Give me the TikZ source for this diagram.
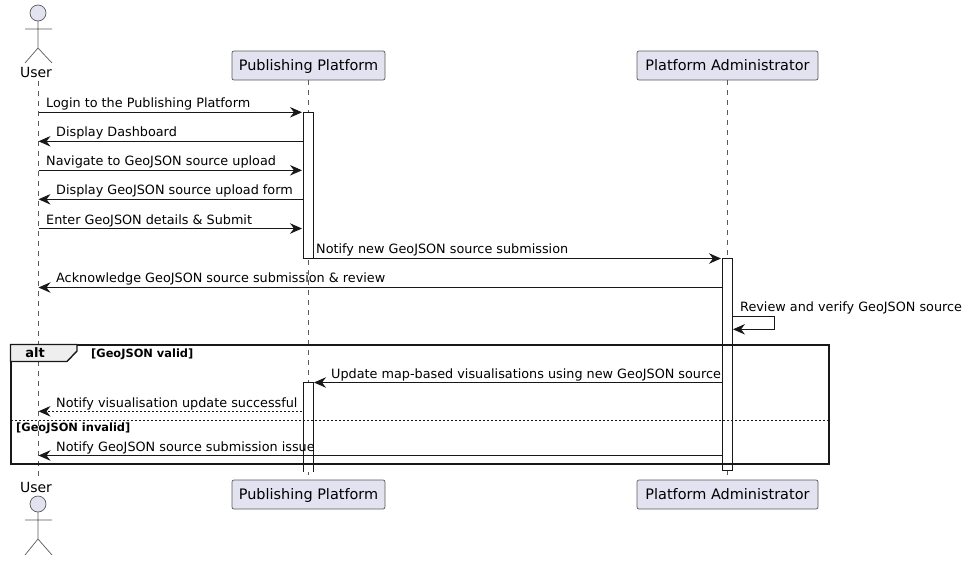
\documentclass[tikz,border=0pt]{standalone}
\usepackage{fontspec}
\usepackage{xcolor}
\usepackage{tikz}
\usetikzlibrary{arrows.meta}
\setmainfont{DejaVu Sans}

\definecolor{partfill}{HTML}{E2E2F0}
\definecolor{partline}{HTML}{5A5A5A}
\definecolor{tabfill}{HTML}{EEEEEE}
\definecolor{inkline}{HTML}{181818}

\tikzset{
  part/.style={draw=partline, fill=partfill, rounded corners=2pt, line width=0.7pt,
    minimum height=29pt, inner sep=0pt, text height=12pt, text depth=2.4pt,
    font=\fontsize{14.45}{17}\selectfont, text=black},
  actorname/.style={inner sep=0pt, font=\fontsize{14}{17}\selectfont, text=black},
  actorline/.style={draw=partline, line width=0.7pt},
  lifeline/.style={draw=partline, line width=0.6pt, dash pattern=on 5pt off 5pt},
  bar/.style={draw=inkline, fill=white, line width=0.9pt},
  msg/.style={draw=inkline, line width=0.9pt, -{Stealth[length=12pt,width=10.5pt,inset=4pt]}},
  msgdash/.style={msg, dash pattern=on 2pt off 2pt},
  msglabel/.style={anchor=base west, inner sep=0pt, font=\fontsize{12.8}{15}\selectfont, text=black},
  guard/.style={anchor=base west, inner sep=0pt, font=\fontsize{11.4}{13}\bfseries\selectfont, text=black},
}

\begin{document}
\begin{tikzpicture}[x=1pt, y=-1pt]
  \useasboundingbox (0,0) rectangle (969,560);

  % -- participants, top and bottom ---------------------------------------
  \node[actorname, anchor=base] (usertop) at (36,77.5) {User};
  \node[actorname, anchor=base] (userbot) at (36,492.5) {User};
  \node[part, minimum width=153pt] (pubtop) at (308.5,65.5) {Publishing Platform};
  \node[part, minimum width=153pt] (pubbot) at (308.5,494.5) {Publishing Platform};
  \node[part, minimum width=181pt] (admintop) at (727.5,65.5) {Platform Administrator};
  \node[part, minimum width=181pt] (adminbot) at (727.5,494.5) {Platform Administrator};

  % -- stick figures ------------------------------------------------------
  \draw[actorline, fill=partfill] (38,13) circle (8);
  \draw[actorline] (38,21) -- (38,48) (25,29) -- (52,29) (25,63) -- (38,48) -- (52,63);
  \draw[actorline, fill=partfill] (38,504) circle (8);
  \draw[actorline] (38,512) -- (38,539) (25,520) -- (52,520) (25,555) -- (38,539) -- (52,555);

  % -- lifelines ----------------------------------------------------------
  \coordinate (userhi) at (38.5,81);
  \coordinate (userlo) at (38.5,477);
  \draw[lifeline] (userhi) -- (userlo);
  \draw[lifeline] (pubtop) -- (pubbot);
  \draw[lifeline] (admintop) -- (adminbot);

  % -- activation bars ----------------------------------------------------
  \draw[bar] (303,112.3) rectangle (313,258.5);
  \fill[white] (303,382.5) rectangle (313,472);
  \draw[bar] (303,472) -- (303,382.5) -- (313,382.5) -- (313,472);
  \draw[bar] (722,258.5) rectangle (732,470);

  % -- alt frame ----------------------------------------------------------
  \draw[inkline, line width=2pt] (10.5,344.5) rectangle (829,463.5);
  \draw[inkline, fill=tabfill, line width=1.4pt] (10.5,344.5) -- (77,344.5) -- (77,351) -- (67,361.5) -- (10.5,361.5) -- cycle;
  \draw[inkline, line width=0.7pt, dash pattern=on 2pt off 2pt] (10.5,420.3) -- (829,420.3);
  \node[anchor=base, inner sep=0pt, font=\fontsize{13}{15}\bfseries\selectfont] (alttag) at (35,357) {alt};
  \node[guard] (validtag) at (91,357) {[GeoJSON valid]};
  \node[guard] (invalidtag) at (16,431) {[GeoJSON invalid]};

  % -- message ends -------------------------------------------------------
  \coordinate (u1) at (38.5,112.3);   \coordinate (p1) at (302,112.3);
  \coordinate (p2) at (303,141.3);    \coordinate (u2) at (38.5,141.3);
  \coordinate (u3) at (38.5,170.3);   \coordinate (p3) at (302,170.3);
  \coordinate (p4) at (303,199.3);    \coordinate (u4) at (38.5,199.3);
  \coordinate (u5) at (38.5,228.5);   \coordinate (p5) at (302,228.5);
  \coordinate (p6) at (303,258.5);    \coordinate (a6) at (721,258.5);
  \coordinate (a7) at (722,287.5);    \coordinate (u7) at (38.5,287.5);
  \coordinate (a8) at (732,316.3);    \coordinate (b8) at (733,329.3);
  \coordinate (a9) at (722,382.5);    \coordinate (p9) at (314,382.5);
  \coordinate (p10) at (302,411.3);   \coordinate (u10) at (38.5,411.3);
  \coordinate (a11) at (722,455.5);   \coordinate (u11) at (38.5,455.5);

  % -- messages -----------------------------------------------------------
  \draw[msg] (u1) -- (p1);
  \draw[msg] (p2) -- (u2);
  \draw[msg] (u3) -- (p3);
  \draw[msg] (p4) -- (u4);
  \draw[msg] (u5) -- (p5);
  \draw[msg] (p6) -- (a6);
  \draw[msg] (a7) -- (u7);
  \draw[msg] (a8) -- (774.5,316.3) -- (774.5,329.3) -- (b8);
  \draw[msg] (a9) -- (p9);
  \draw[msgdash] (p10) -- (u10);
  \draw[msg] (a11) -- (u11);

  % -- message labels -----------------------------------------------------
  \node[msglabel] (m1) at (46,107) {Login to the Publishing Platform};
  \node[msglabel] (m2) at (56,136) {Display Dashboard};
  \node[msglabel] (m3) at (46,165.5) {Navigate to GeoJSON source upload};
  \node[msglabel] (m4) at (56,194.5) {Display GeoJSON source upload form};
  \node[msglabel] (m5) at (46,224) {Enter GeoJSON details \& Submit};
  \node[msglabel] (m6) at (316,253) {Notify new GeoJSON source submission};
  \node[msglabel] (m7) at (56,282) {Acknowledge GeoJSON source submission \& review};
  \node[msglabel] (m8) at (740,311) {Review and verify GeoJSON source};
  \node[msglabel] (m9) at (331,378) {Update map-based visualisations using new GeoJSON source};
  \node[msglabel] (m10) at (56,407) {Notify visualisation update successful};
  \node[msglabel] (m11) at (56,451) {Notify GeoJSON source submission issue};

\end{tikzpicture}
\end{document}
